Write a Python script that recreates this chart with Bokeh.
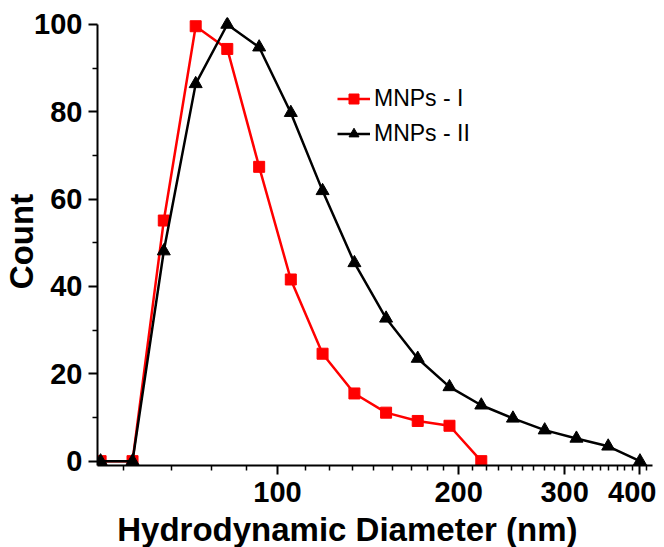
from bokeh.plotting import figure
from bokeh.models import FixedTicker, Legend, LegendItem, Title, Range1d, NumeralTickFormatter
from bokeh.embed import file_html
from bokeh.resources import INLINE

# ---- data ----
diameter_nm = [50.8, 57.4, 64.7, 73.1, 82.5, 93.2, 105.2, 118.8, 134.2, 151.5,
               171.0, 193.1, 218.1, 246.2, 278.0, 313.9, 354.5, 400.3]
count_mnps_1 = [0, 0, 55.1, 99.6, 94.4, 67.4, 41.6, 24.6, 15.5, 11.1, 9.2, 8.1, 0]
count_mnps_2 = [0, 0, 48.1, 86.4, 100, 94.8, 79.8, 61.9, 45.4, 32.7, 23.5,
                17.0, 12.8, 9.8, 7.1, 5.2, 3.4, 0]
series_names = ["MNPs - I", "MNPs - II"]
x_major_ticks = [100, 200, 300, 400]
y_major_ticks = [0, 20, 40, 60, 80, 100]
y_minor_ticks = [10, 30, 50, 70, 90]
x_title = "Hydrodynamic Diameter (nm)"
y_title = "Count"

X_MIN, X_MAX = 50.2, 420
x_minor_ticks = [base + k * 100 / 9 for base in (0, 100, 200, 300, 400)
                 for k in range(1, 9) if X_MIN < base + k * 100 / 9 < X_MAX]

FONT = "Liberation Sans"

p = figure(frame_width=555, frame_height=448, x_axis_type="log",
           x_range=Range1d(X_MIN, X_MAX), y_range=Range1d(-1, 101.6),
           output_backend="svg", toolbar_location=None,
           min_border_left=89, min_border_top=17, min_border_right=4,
           min_border_bottom=60)
p.outline_line_color = None
p.grid.visible = False
p.background_fill_color = "white"

# series
n1 = len(count_mnps_1)
r1l = p.line(diameter_nm[:n1], count_mnps_1, line_color="#ff0000", line_width=2.5)
r1m = p.scatter(diameter_nm[:n1], count_mnps_1, marker="square", size=11,
                fill_color="#ff0000", line_color="#ff0000")
r2l = p.line(diameter_nm, count_mnps_2, line_color="black", line_width=2.5)
r2m = p.scatter(diameter_nm, count_mnps_2, marker="triangle", size=13,
                fill_color="black", line_color="black")

# axes
xa = p.xaxis[0]
xa.ticker = FixedTicker(ticks=x_major_ticks, minor_ticks=x_minor_ticks)
xa.formatter = NumeralTickFormatter(format="0")
ya = p.yaxis[0]
ya.ticker = FixedTicker(ticks=y_major_ticks, minor_ticks=y_minor_ticks)
ya.bounds = (-1, 100)
for ax in (xa, ya):
    ax.axis_line_width = 2
    ax.axis_line_color = "black"
    ax.major_tick_line_width = 2
    ax.minor_tick_line_width = 1.5
    ax.major_tick_out = 9
    ax.major_tick_in = 0
    ax.minor_tick_out = 5
    ax.minor_tick_in = 0
    ax.major_label_text_font = FONT
    ax.major_label_text_font_style = "bold"
    ax.major_label_text_font_size = "29px"
    ax.major_label_text_color = "black"
xa.major_label_standoff = 7
ya.major_label_standoff = 6

ya.axis_label = y_title
ya.axis_label_text_font = FONT
ya.axis_label_text_font_style = "bold"
ya.axis_label_text_font_size = "33px"
ya.axis_label_text_color = "black"
ya.axis_label_standoff = -9

# x-axis title, placed below the axis and shifted left as in the reference
p.add_layout(Title(text=x_title, align="left", offset=19.7, standoff=12,
                   vertical_align="top",
                   text_font=FONT, text_font_style="bold", text_font_size="33px",
                   text_color="black"), "below")

legend = Legend(items=[LegendItem(label=series_names[0], renderers=[r1l, r1m]),
                       LegendItem(label=series_names[1], renderers=[r2l, r2m])],
                location=(240, 318), padding=0, margin=0,
                border_line_color=None, background_fill_alpha=0,
                glyph_width=33, glyph_height=25, label_height=25, spacing=8,
                label_standoff=4, label_text_font=FONT,
                label_text_font_size="23px", label_text_color="black")
p.add_layout(legend)

open("out.html", "w").write(file_html(p, INLINE))
